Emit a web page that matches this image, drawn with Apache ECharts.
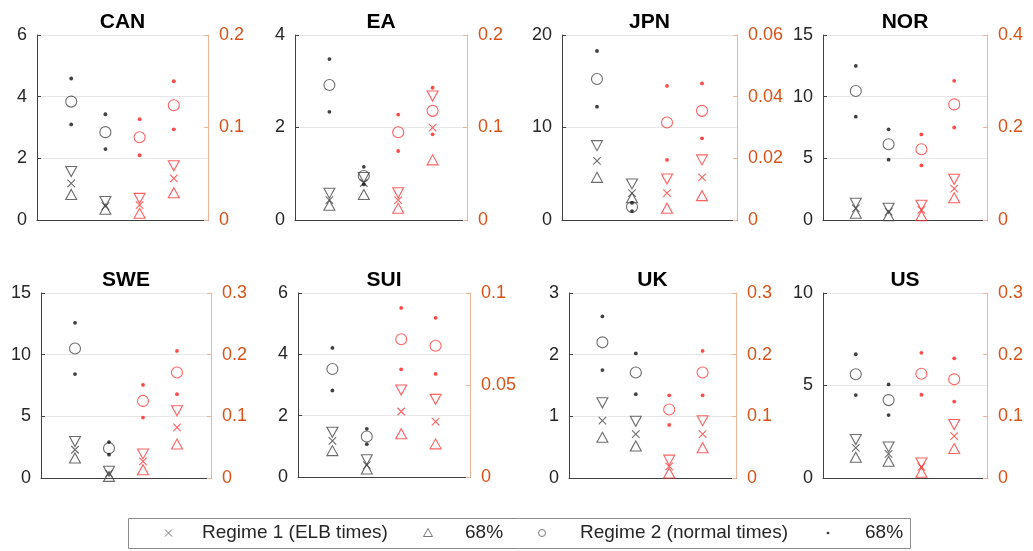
<!DOCTYPE html>
<html>
<head>
<meta charset="utf-8">
<script src="https://cdn.jsdelivr.net/npm/echarts@6/dist/echarts.min.js"></script>
<style>
  html, body { margin: 0; padding: 0; background: #fff; }
  #chart { width: 1033px; height: 551px; }
</style>
</head>
<body>
<div id="chart"></div>
<script>
// Countries, one panel each
const countries = ['CAN', 'EA', 'JPN', 'NOR', 'SWE', 'SUI', 'UK', 'US'];

// Left axis (variables 1-2) and right axis (variables 3-4) ranges and tick steps
const leftMax   = [6, 4, 20, 15, 15, 6, 3, 10];
const leftStep  = [2, 2, 10, 5, 5, 2, 1, 5];
const rightMax  = [0.2, 0.2, 0.06, 0.4, 0.3, 0.1, 0.3, 0.3];
const rightStep = [0.1, 0.1, 0.02, 0.2, 0.1, 0.05, 0.1, 0.1];

// Regime 1 (ELB times): median, lower and upper 68% bounds, four variables per country
const r1Mid = [
  [1.19, 0.45, 0.016, 0.045],
  [0.43, 0.80, 0.0216, 0.0998],
  [6.38, 2.90, 0.0087, 0.0138],
  [0.95, 0.68, 0.022, 0.068],
  [2.29, 0.35, 0.027, 0.082],
  [1.18, 0.39, 0.0356, 0.0301],
  [0.93, 0.71, 0.019, 0.071],
  [1.63, 1.30, 0.018, 0.068]
];
const r1Lo = [
  [0.83, 0.35, 0.0072, 0.0295],
  [0.32, 0.55, 0.0126, 0.065],
  [4.61, 2.40, 0.0038, 0.0079],
  [0.54, 0.35, 0.0094, 0.048],
  [1.62, 0.13, 0.0135, 0.055],
  [0.86, 0.26, 0.0235, 0.018],
  [0.66, 0.52, 0.0082, 0.049],
  [1.12, 0.90, 0.0092, 0.0477]
];
const r1Hi = [
  [1.57, 0.60, 0.0234, 0.0587],
  [0.58, 0.92, 0.0295, 0.134],
  [8.04, 3.90, 0.0133, 0.0195],
  [1.35, 0.95, 0.032, 0.088],
  [2.96, 0.54, 0.039, 0.109],
  [1.46, 0.56, 0.0473, 0.0422],
  [1.22, 0.92, 0.029, 0.093],
  [2.08, 1.68, 0.0244, 0.0868]
];

// Regime 2 (normal times): median, lower and upper 68% bounds
const r2Mid = [
  [3.84, 2.85, 0.0894, 0.124],
  [2.92, 0.95, 0.0948, 0.118],
  [15.24, 1.40, 0.0316, 0.0354],
  [10.46, 6.14, 0.153, 0.250],
  [10.50, 2.42, 0.125, 0.171],
  [3.52, 1.32, 0.0749, 0.0713],
  [2.20, 1.71, 0.111, 0.171],
  [5.61, 4.21, 0.169, 0.160]
];
const r2Lo = [
  [3.10, 2.30, 0.070, 0.098],
  [2.34, 0.77, 0.0746, 0.0926],
  [12.25, 0.97, 0.0195, 0.0265],
  [8.38, 4.89, 0.118, 0.200],
  [8.43, 1.89, 0.098, 0.136],
  [2.82, 1.07, 0.0585, 0.056],
  [1.75, 1.36, 0.086, 0.134],
  [4.48, 3.40, 0.135, 0.124]
];
const r2Hi = [
  [4.59, 3.43, 0.109, 0.150],
  [3.48, 1.15, 0.114, 0.143],
  [18.27, 1.85, 0.0435, 0.0443],
  [12.49, 7.35, 0.185, 0.301],
  [12.58, 2.91, 0.151, 0.206],
  [4.21, 1.57, 0.0919, 0.0865],
  [2.62, 2.02, 0.134, 0.206],
  [6.69, 5.06, 0.203, 0.194]
];

// Legend entries
const legendLabels = ['Regime 1 (ELB times)', '68%', 'Regime 2 (normal times)', '68%'];

// ---- layout and styling ----
const FONT = "'Liberation Sans', Arial, Helvetica, sans-serif";
const panels = [
  { l: 37,  r: 208, t: 35,  b: 220 },
  { l: 295, r: 467, t: 35,  b: 220 },
  { l: 562, r: 737, t: 35,  b: 220 },
  { l: 823, r: 987, t: 35,  b: 220 },
  { l: 41,  r: 211, t: 293, b: 478 },
  { l: 298, r: 470, t: 293, b: 477 },
  { l: 569, r: 736, t: 293, b: 478 },
  { l: 823, r: 987, t: 293, b: 478 }
];
const LEFT_COLOR = '#262626';
const RIGHT_COLOR = '#D95319';
const DARK = '#474747';
const RED = '#ff3a3a';

const CROSS = 'path://M0,0L10,10M10,0L0,10';
const TRI_UP = 'path://M5,0L10,9L0,9Z';
const TRI_DOWN = 'path://M0,0L10,0L5,9Z';

function fmtRight(v) {
  if (Math.abs(v) < 1e-12) return '0';
  return String(parseFloat(v.toFixed(4)));
}

const grids = [], xAxes = [], yAxes = [], series = [], graphics = [];

countries.forEach((name, i) => {
  const p = panels[i];
  grids.push({ left: p.l, top: p.t, width: p.r - p.l, height: p.b - p.t, containLabel: false });
  xAxes.push({
    gridIndex: i, type: 'value', min: 0, max: 5,
    axisLine: { show: true, lineStyle: { color: '#404040', width: 1 } },
    axisTick: { show: false }, axisLabel: { show: false }, splitLine: { show: false }
  });
  yAxes.push({
    gridIndex: i, type: 'value', position: 'left', min: 0, max: leftMax[i], interval: leftStep[i],
    axisLine: { show: true, lineStyle: { color: '#404040', width: 1 } },
    axisTick: { show: true, inside: true, length: 4, lineStyle: { color: '#404040' } },
    axisLabel: { color: LEFT_COLOR, fontSize: 18, fontFamily: FONT, margin: 10 },
    splitLine: { show: true, lineStyle: { color: '#e6e6e6', width: 1 } }
  });
  yAxes.push({
    gridIndex: i, type: 'value', position: 'right', min: 0, max: rightMax[i], interval: rightStep[i],
    axisLine: { show: true, lineStyle: { color: '#f0b596', width: 1 } },
    axisTick: { show: true, inside: true, length: 4, lineStyle: { color: '#f0b596' } },
    axisLabel: { color: RIGHT_COLOR, fontSize: 18, fontFamily: FONT, margin: 11, formatter: fmtRight },
    splitLine: { show: false }
  });

  // Columns 1-2 on the left axis (black), 3-4 on the right axis (red)
  [0, 1].forEach(side => {
    const cols = side === 0 ? [0, 1] : [2, 3];
    const yIdx = 2 * i + side;
    const col = side === 0 ? DARK : RED;
    const dotCol = side === 0 ? '#111' : '#ff1a1a';
    const pts = arr => cols.map(c => [c + 1, arr[i][c]]);
    const base = { type: 'scatter', xAxisIndex: i, yAxisIndex: yIdx, silent: true, animation: false, z: 3 };
    series.push(Object.assign({}, base, {
      data: pts(r1Hi), symbol: TRI_DOWN, symbolSize: [11, 10],
      itemStyle: { color: 'rgba(0,0,0,0)', borderColor: col, borderWidth: 1.1 }
    }));
    series.push(Object.assign({}, base, {
      data: pts(r1Lo), symbol: TRI_UP, symbolSize: [11, 10],
      itemStyle: { color: 'rgba(0,0,0,0)', borderColor: col, borderWidth: 1.1 }
    }));
    series.push(Object.assign({}, base, {
      data: pts(r1Mid), symbol: CROSS, symbolSize: 7.5,
      itemStyle: { color: 'rgba(0,0,0,0)', borderColor: col, borderWidth: 1.1 }
    }));
    series.push(Object.assign({}, base, {
      data: pts(r2Mid), symbol: 'circle', symbolSize: 11,
      itemStyle: { color: 'rgba(0,0,0,0)', borderColor: col, borderWidth: 1.1 }
    }));
    series.push(Object.assign({}, base, {
      data: pts(r2Lo).concat(pts(r2Hi)), symbol: 'circle', symbolSize: 3.8,
      itemStyle: { color: dotCol, borderWidth: 0 }
    }));
  });

  // Panel title
  graphics.push({
    type: 'text', x: (p.l + p.r) / 2, y: p.t - 13,
    style: { text: name, font: 'bold 21px ' + FONT, fill: '#000', align: 'center', verticalAlign: 'middle' },
    silent: true
  });
});

// Legend box
const LY = 533;
graphics.push({
  type: 'rect', shape: { x: 128.5, y: 518.5, width: 782, height: 30 },
  style: { fill: '#fff', stroke: '#8c8c8c', lineWidth: 1 }, silent: true, z: 10
});
const legendMarkStyle = { stroke: '#777', fill: 'none', lineWidth: 1 };
graphics.push({ type: 'polyline', shape: { points: [[165, LY - 3.5], [172, LY + 3.5]] }, style: legendMarkStyle, z: 11, silent: true });
graphics.push({ type: 'polyline', shape: { points: [[165, LY + 3.5], [172, LY - 3.5]] }, style: legendMarkStyle, z: 11, silent: true });
graphics.push({ type: 'polygon', shape: { points: [[428, LY - 4.5], [432.5, LY + 3.5], [423.5, LY + 3.5]] }, style: legendMarkStyle, z: 11, silent: true });
graphics.push({ type: 'circle', shape: { cx: 542, cy: LY, r: 3.5 }, style: legendMarkStyle, z: 11, silent: true });
graphics.push({ type: 'circle', shape: { cx: 828, cy: LY, r: 1.3 }, style: { fill: '#333' }, z: 11, silent: true });
[[202, legendLabels[0]], [465, legendLabels[1]], [580, legendLabels[2]], [865, legendLabels[3]]].forEach(([x, t]) => {
  graphics.push({
    type: 'text', x: x, y: LY,
    style: { text: t, font: '19px ' + FONT, fill: '#262626', align: 'left', verticalAlign: 'middle' },
    z: 11, silent: true
  });
});

const chart = echarts.init(document.getElementById('chart'), null, { renderer: 'canvas' });
chart.setOption({
  backgroundColor: '#fff',
  animation: false,
  grid: grids,
  xAxis: xAxes,
  yAxis: yAxes,
  series: series,
  graphic: graphics
});
</script>
</body>
</html>
